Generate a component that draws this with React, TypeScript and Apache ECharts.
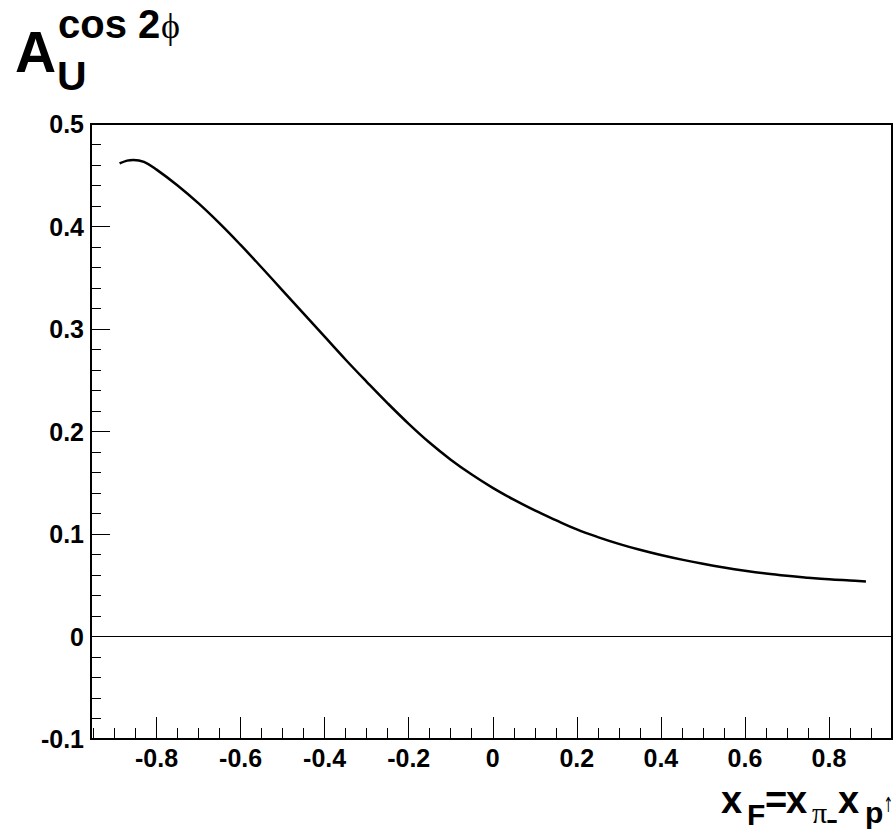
import React, { useEffect, useRef } from "react";
import * as echarts from "echarts";

// Sampled asymmetry curve A_U^{cos 2phi} versus x_F
const xF = [
  -0.888, -0.87, -0.855, -0.83, -0.8, -0.75, -0.7, -0.65, -0.6, -0.55, -0.5, -0.45,
  -0.4, -0.35, -0.3, -0.25, -0.2, -0.15, -0.1, -0.05, 0, 0.05, 0.1, 0.15, 0.2, 0.25,
  0.3, 0.35, 0.4, 0.45, 0.5, 0.55, 0.6, 0.65, 0.7, 0.75, 0.8, 0.85, 0.888,
];
const asym = [
  0.4615, 0.4643, 0.465, 0.463, 0.4555, 0.44, 0.4225, 0.403, 0.382, 0.36, 0.3375, 0.315,
  0.2925, 0.27, 0.2485, 0.2275, 0.2075, 0.189, 0.1725, 0.158, 0.145, 0.1335, 0.123,
  0.1135, 0.1045, 0.097, 0.0904, 0.0846, 0.0795, 0.075, 0.071, 0.0674, 0.0642, 0.0614,
  0.0592, 0.0574, 0.0558, 0.0546, 0.0537,
];

// Axis ticks
const xMajorTicks = [-0.8, -0.6, -0.4, -0.2, 0, 0.2, 0.4, 0.6, 0.8];
const xMinorTicks = [
  -0.95, -0.9, -0.85, -0.75, -0.7, -0.65, -0.55, -0.5, -0.45, -0.35, -0.3, -0.25,
  -0.15, -0.1, -0.05, 0.05, 0.1, 0.15, 0.25, 0.3, 0.35, 0.45, 0.5, 0.55, 0.65, 0.7,
  0.75, 0.85, 0.9,
];
const xRange = [-0.956, 0.95];
const yRange = [-0.1, 0.5];

const SANS = "Liberation Sans, Arial, Helvetica, sans-serif";
const SERIF = "Liberation Serif, Times New Roman, serif";

function txt(
  text: string,
  x: number,
  y: number,
  size: number,
  bold = true,
  family = SANS,
  scaleX = 1
) {
  return {
    type: "text",
    x,
    y,
    scaleX,
    style: {
      text,
      fill: "#000",
      font: `${bold ? "bold " : ""}${size}px ${family}`,
      align: "left",
      verticalAlign: "middle",
    },
  };
}

export default function App() {
  const ref = useRef<HTMLDivElement>(null);

  useEffect(() => {
    if (!ref.current) return;
    const chart = echarts.init(ref.current, null, { renderer: "svg" });
    const data = xF.map((x, i) => [x, asym[i]]);
    const fmt = (v: number) => String(Math.round(v * 10) / 10);

    chart.setOption({
      animation: false,
      backgroundColor: "#fff",
      grid: {
        left: 91,
        right: 2,
        top: 124,
        bottom: 93,
        show: true,
        borderColor: "#000",
        borderWidth: 2,
        backgroundColor: "transparent",
      },
      xAxis: [
        {
          type: "value",
          min: xRange[0],
          max: xRange[1],
          axisLine: { show: true, onZero: false, lineStyle: { color: "#000", width: 2 } },
          axisTick: {
            show: true,
            inside: true,
            length: 22,
            customValues: xMajorTicks,
            lineStyle: { color: "#000", width: 1 },
          },
          axisLabel: {
            show: true,
            customValues: xMajorTicks,
            margin: 6,
            color: "#000",
            fontSize: 25,
            fontWeight: "bold",
            fontFamily: SANS,
            formatter: fmt,
          },
          splitLine: { show: false },
        },
        {
          type: "value",
          min: xRange[0],
          max: xRange[1],
          position: "bottom",
          axisLine: { show: false, onZero: false },
          axisTick: {
            show: true,
            inside: true,
            length: 11,
            customValues: xMinorTicks,
            lineStyle: { color: "#000", width: 1 },
          },
          axisLabel: { show: false },
          splitLine: { show: false },
        },
      ],
      yAxis: {
        type: "value",
        min: yRange[0],
        max: yRange[1],
        interval: 0.1,
        axisLine: { show: true, onZero: false, lineStyle: { color: "#000", width: 2 } },
        axisTick: { show: true, inside: true, length: 19, lineStyle: { color: "#000", width: 1 } },
        minorTick: { show: true, splitNumber: 5, length: 10, lineStyle: { color: "#000", width: 1 } },
        axisLabel: {
          margin: 7,
          color: "#000",
          fontSize: 25,
          fontWeight: "bold",
          fontFamily: SANS,
          formatter: fmt,
        },
        splitLine: { show: false },
      },
      series: [
        {
          type: "line",
          xAxisIndex: 0,
          data,
          smooth: 0.4,
          showSymbol: false,
          lineStyle: { color: "#000", width: 2.5 },
          markLine: {
            silent: true,
            symbol: ["none", "none"],
            label: { show: false },
            lineStyle: { color: "#000", width: 1.2, type: "solid" },
            data: [{ yAxis: 0 }],
          },
        },
      ],
      graphic: [
        // y-axis title: A_U^{cos 2phi}
        txt("A", 15, 52, 57),
        txt("U", 57, 76, 41),
        txt("cos 2", 58, 24, 40),
        txt("\u03D5", 161, 26, 36, false, SERIF),
        // x-axis title: x_F = x_pi - x_p(up)
        txt("x", 721, 800, 38),
        txt("F", 747, 814.5, 30),
        txt("=", 765, 800, 38),
        txt("x", 786, 800, 38),
        txt("\u03C0", 812, 812, 30, false, SERIF),
        txt("-", 826, 818.5, 26, true, SANS, 1.4),
        txt("x", 838, 800, 38),
        txt("p", 865, 812, 30),
        txt("\u2191", 883.5, 805, 21, false, "DejaVu Sans, sans-serif", 0.55),
      ],
    });

    return () => chart.dispose();
  }, []);

  return (
    <div
      ref={ref}
      style={{ position: "absolute", left: 0, top: 0, width: 894, height: 832 }}
    />
  );
}
